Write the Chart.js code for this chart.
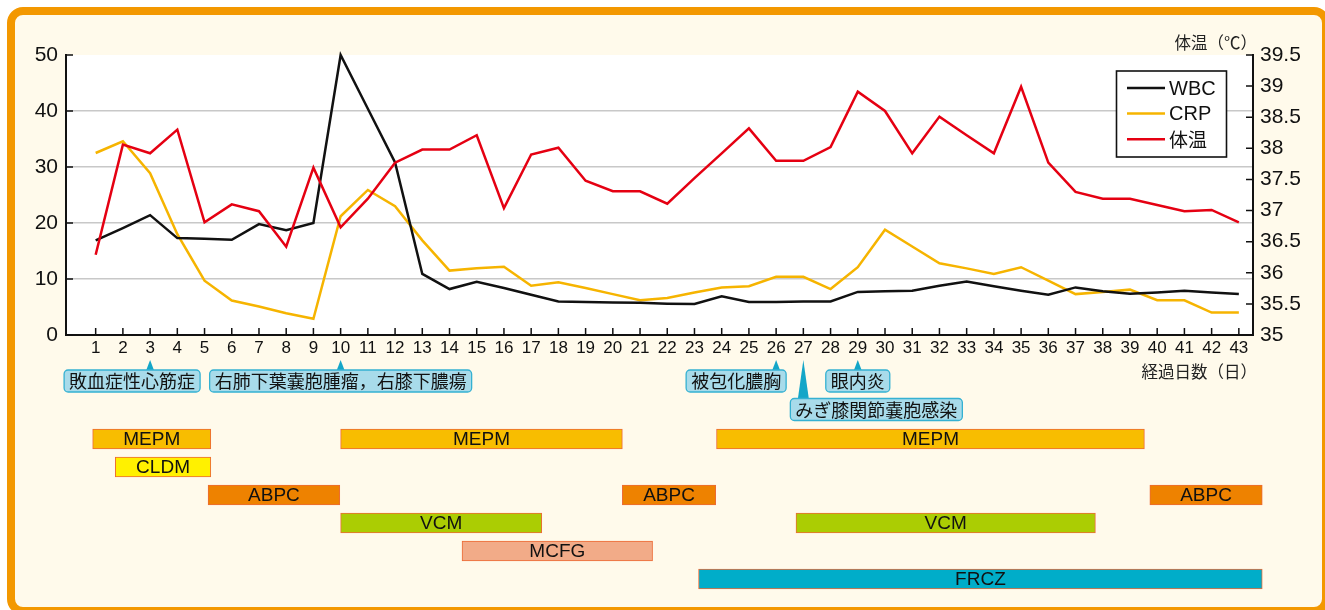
<!DOCTYPE html>
<html lang="ja">
<head>
<meta charset="utf-8">
<script src="https://cdn.jsdelivr.net/npm/chart.js@4.4.1/dist/chart.umd.min.js"></script>
<style>
  html, body { margin: 0; padding: 0; background: #fff; overflow: hidden; }
  #frame {
    position: absolute; left: 7px; top: 7px; width: 1323px; height: 608px;
    box-sizing: border-box; border: 8px solid #f39800; border-radius: 16px;
    background: #fffaeb;
  }
  canvas { position: absolute; left: 0; top: 0; }
</style>
</head>
<body>
<div id="frame"></div>
<canvas id="lines" width="1325" height="610"></canvas>
<canvas id="drugs" width="1325" height="610"></canvas>
<script>
// 経過日数
const days = [1, 2, 3, 4, 5, 6, 7, 8, 9, 10, 11, 12, 13, 14, 15, 16, 17, 18, 19, 20, 21, 22,
  23, 24, 25, 26, 27, 28, 29, 30, 31, 32, 33, 34, 35, 36, 37, 38, 39, 40, 41, 42, 43];

const wbc = [16.9, 19.1, 21.4, 17.3, 17.2, 17.0, 19.8, 18.7, 20.0, 50.0, 40.4, 30.8, 10.9, 8.2,
  9.5, 8.4, 7.2, 6.0, 5.9, 5.8, 5.75, 5.6, 5.55, 6.9, 5.9, 5.9, 6.0, 6.0, 7.7, 7.8,
  7.9, 8.8, 9.55, 8.7, 7.9, 7.2, 8.5, 7.8, 7.35, 7.6, 7.9, 7.6, 7.3];

const crp = [32.5, 34.6, 28.9, 18.0, 9.7, 6.15, 5.1, 3.9, 2.9, 21.2, 25.9, 23.0, 16.9, 11.5,
  11.9, 12.2, 8.8, 9.4, 8.4, 7.3, 6.2, 6.6, 7.6, 8.5, 8.7, 10.4, 10.4, 8.2, 12.1, 18.8,
  15.8, 12.8, 11.9, 10.9, 12.1, 9.7, 7.3, 7.7, 8.1, 6.2, 6.2, 4.0, 4.0];

const temp = [36.29, 38.06, 37.92, 38.30, 36.81, 37.10, 36.99, 36.42, 37.69, 36.73, 37.19,
  37.77, 37.98, 37.98, 38.21, 37.04, 37.90, 38.01, 37.48, 37.31, 37.31, 37.11, 37.52,
  37.92, 38.32, 37.80, 37.80, 38.02, 38.91, 38.60, 37.92, 38.51, 38.21, 37.92, 38.99,
  37.77, 37.30, 37.19, 37.19, 37.09, 36.99, 37.01, 36.81];

const wbcTicks = [0, 10, 20, 30, 40, 50];
const tempTicks = [35, 35.5, 36, 36.5, 37, 37.5, 38, 38.5, 39, 39.5];

// 抗菌薬の投与期間（日）
const drugRows = ['MEPM', 'CLDM', 'ABPC', 'VCM', 'MCFG', 'FRCZ'];
const drugColors = ['#f8bd00', '#fff100', '#ee8200', '#abcd03', '#f2ab88', '#00adc9'];
const courseDrug = ['MEPM', 'CLDM', 'ABPC', 'MEPM', 'VCM', 'MCFG', 'ABPC', 'MEPM', 'FRCZ', 'VCM', 'ABPC'];
const courseStart = [0.89, 1.72, 5.13, 10.0, 10.0, 14.46, 20.35, 23.81, 23.15, 26.73, 39.73];
const courseEnd = [5.23, 5.23, 9.97, 20.35, 17.39, 21.46, 23.78, 39.53, 43.86, 37.73, 43.86];

// 経過中のイベント
const noteText = ['敗血症性心筋症', '右肺下葉嚢胞腫瘤，右膝下膿瘍', '被包化膿胸', 'みぎ膝関節嚢胞感染', '眼内炎'];
const noteDay = [3, 10, 26, 27, 29];

// callout layout (px shift of the box from its pointer, row)
const noteShift = [-18, 0, -40, 73, 0];
const noteRow = [0, 0, 0, 1, 0];

const LATIN = "'Liberation Sans', Arial, Helvetica, sans-serif";
const JP = "'Noto Sans CJK JP', 'Noto Sans', sans-serif";
const xMin = -0.09, xMax = 43.52, drugMax = 44;

const plotBg = {
  id: 'plotBg',
  beforeDraw(chart) {
    const { ctx, chartArea: a } = chart;
    ctx.save();
    ctx.fillStyle = '#ffffff';
    ctx.fillRect(a.left, a.top, a.right - a.left, a.bottom - a.top);
    ctx.restore();
  }
};

// tick marks point into the plot
const innerTicks = {
  id: 'innerTicks',
  beforeDatasetsDraw(chart) {
    const { ctx, chartArea: a, scales } = chart;
    ctx.save();
    ctx.strokeStyle = '#111';
    ctx.lineWidth = 1.5;
    ctx.beginPath();
    scales.x.ticks.forEach(t => {
      const p = scales.x.getPixelForValue(t.value);
      ctx.moveTo(p, a.bottom); ctx.lineTo(p, a.bottom - 7);
    });
    scales.y.ticks.forEach(t => {
      const p = scales.y.getPixelForValue(t.value);
      ctx.moveTo(a.left, p); ctx.lineTo(a.left + 7, p);
    });
    scales.y2.ticks.forEach(t => {
      const p = scales.y2.getPixelForValue(t.value);
      ctx.moveTo(a.right, p); ctx.lineTo(a.right - 7, p);
    });
    ctx.stroke();
    ctx.restore();
  }
};

const legendBox = {
  id: 'legendBox',
  afterDatasetsDraw(chart) {
    const ctx = chart.ctx;
    ctx.save();
    ctx.fillStyle = '#fff';
    ctx.fillRect(1116.5, 71, 110, 86);
    ctx.strokeStyle = '#111';
    ctx.lineWidth = 1.6;
    ctx.strokeRect(1116.5, 71, 110, 86);
    chart.data.datasets.forEach((ds, i) => {
      const y = 88 + i * 25.6;
      ctx.strokeStyle = ds.borderColor;
      ctx.lineWidth = 2.5;
      ctx.beginPath();
      ctx.moveTo(1127, y); ctx.lineTo(1165, y);
      ctx.stroke();
      ctx.fillStyle = '#111';
      ctx.textBaseline = 'middle';
      ctx.font = (ds.label === '体温' ? '19px ' + JP : '20px ' + LATIN);
      ctx.fillText(ds.label, 1169, y + 1);
    });
    ctx.restore();
  }
};

const axisTitles = {
  id: 'axisTitles',
  afterDraw(chart) {
    const ctx = chart.ctx;
    ctx.save();
    ctx.fillStyle = '#222';
    ctx.font = '16.5px ' + JP;
    ctx.textAlign = 'right';
    ctx.textBaseline = 'middle';
    ctx.fillText('体温（℃）', 1257, 43);
    ctx.fillText('経過日数（日）', 1257, 372);
    ctx.restore();
  }
};

const linesChart = new Chart(document.getElementById('lines'), {
  type: 'line',
  data: {
    datasets: [
      {
        label: 'WBC',
        data: days.map((d, i) => ({ x: d, y: wbc[i] })),
        yAxisID: 'y',
        borderColor: '#111111',
        order: 1
      },
      {
        label: 'CRP',
        data: days.map((d, i) => ({ x: d, y: crp[i] })),
        yAxisID: 'y',
        borderColor: '#f6b400',
        order: 2
      },
      {
        label: '体温',
        data: days.map((d, i) => ({ x: d, y: temp[i] })),
        yAxisID: 'y2',
        borderColor: '#e50012',
        order: 0
      }
    ]
  },
  options: {
    responsive: false,
    animation: false,
    layout: { padding: { left: 0, right: 0, top: 55, bottom: 245 } },
    elements: {
      point: { radius: 0 },
      line: { borderWidth: 2.5, tension: 0, fill: false }
    },
    datasets: { line: { clip: false } },
    plugins: {
      legend: { display: false },
      tooltip: { enabled: false }
    },
    scales: {
      x: {
        type: 'linear',
        min: xMin,
        max: xMax,
        afterBuildTicks: s => { s.ticks = days.map(v => ({ value: v })); },
        afterFit: s => { s.height = 30; },
        grid: { display: false, drawTicks: false },
        border: { color: '#111', width: 2 },
        ticks: {
          color: '#111',
          font: { family: LATIN, size: 17 },
          padding: 3,
          autoSkip: false,
          maxRotation: 0
        }
      },
      y: {
        position: 'left',
        min: 0,
        max: 50,
        afterBuildTicks: s => { s.ticks = wbcTicks.map(v => ({ value: v })); },
        afterFit: s => { s.width = 66; },
        grid: {
          drawTicks: false,
          lineWidth: 1.5,
          color: c => (c.tick && (c.tick.value === 0 || c.tick.value === 50)) ? 'rgba(0,0,0,0)' : '#c8c8c8'
        },
        border: { color: '#111', width: 2 },
        ticks: { color: '#111', font: { family: LATIN, size: 21 }, padding: 8 }
      },
      y2: {
        position: 'right',
        min: 35,
        max: 39.5,
        afterBuildTicks: s => { s.ticks = tempTicks.map(v => ({ value: v })); },
        afterFit: s => { s.width = 72; },
        grid: { display: false, drawTicks: false },
        border: { color: '#111', width: 2 },
        ticks: {
          color: '#111',
          font: { family: LATIN, size: 21 },
          padding: 7,
          callback: v => String(v)
        }
      }
    }
  },
  plugins: [plotBg, innerTicks, legendBox, axisTitles]
});

const barLabels = {
  id: 'barLabels',
  afterDatasetsDraw(chart) {
    const ctx = chart.ctx;
    const meta = chart.getDatasetMeta(0);
    ctx.save();
    ctx.fillStyle = '#111';
    ctx.font = '19px ' + LATIN;
    ctx.textAlign = 'center';
    ctx.textBaseline = 'middle';
    meta.data.forEach((bar, i) => {
      ctx.fillText(courseDrug[i], (bar.x + bar.base) / 2, bar.y + 1);
    });
    ctx.restore();
  }
};

const notes = {
  id: 'notes',
  afterDraw(chart) {
    const ctx = chart.ctx;
    const xs = chart.scales.x;
    ctx.save();
    ctx.font = '18px ' + JP;
    noteText.forEach((txt, i) => {
      const px = xs.getPixelForValue(noteDay[i]);
      const top = noteRow[i] === 0 ? 370 : 398.5;
      const half = noteRow[i] === 0 ? 4 : 5.5;
      // pointer
      ctx.fillStyle = '#14a6c8';
      ctx.beginPath();
      ctx.moveTo(px, 360);
      ctx.lineTo(px + half, top + 0.5);
      ctx.lineTo(px - half, top + 0.5);
      ctx.closePath();
      ctx.fill();
      // box
      const w = ctx.measureText(txt).width + 10;
      const left = px + noteShift[i] - w / 2;
      ctx.beginPath();
      ctx.roundRect(left, top, w, 22, 4);
      ctx.fillStyle = '#a8dbea';
      ctx.fill();
      ctx.strokeStyle = '#35b1d2';
      ctx.lineWidth = 1.3;
      ctx.stroke();
      ctx.fillStyle = '#111';
      ctx.textAlign = 'center';
      ctx.textBaseline = 'middle';
      ctx.fillText(txt, left + w / 2, top + 11.5);
    });
    ctx.restore();
  }
};

const area = linesChart.chartArea;
const ppu = (area.right - area.left) / (xMax - xMin);
const rightPad = 1325 - (area.left + (drugMax - xMin) * ppu);

new Chart(document.getElementById('drugs'), {
  type: 'bar',
  data: {
    labels: drugRows,
    datasets: [{
      data: courseDrug.map((d, i) => ({ y: d, x: [courseStart[i], courseEnd[i]] })),
      backgroundColor: courseDrug.map(d => drugColors[drugRows.indexOf(d)]),
      borderColor: '#ec6a35',
      borderWidth: 1,
      borderSkipped: false,
      barThickness: 20,
      grouped: false
    }]
  },
  options: {
    indexAxis: 'y',
    responsive: false,
    animation: false,
    layout: { padding: { left: area.left, right: rightPad, top: 425, bottom: 17 } },
    plugins: {
      legend: { display: false },
      tooltip: { enabled: false }
    },
    scales: {
      x: { type: 'linear', display: false, min: xMin, max: drugMax },
      y: { type: 'category', display: false }
    }
  },
  plugins: [barLabels, notes]
});
</script>
</body>
</html>
